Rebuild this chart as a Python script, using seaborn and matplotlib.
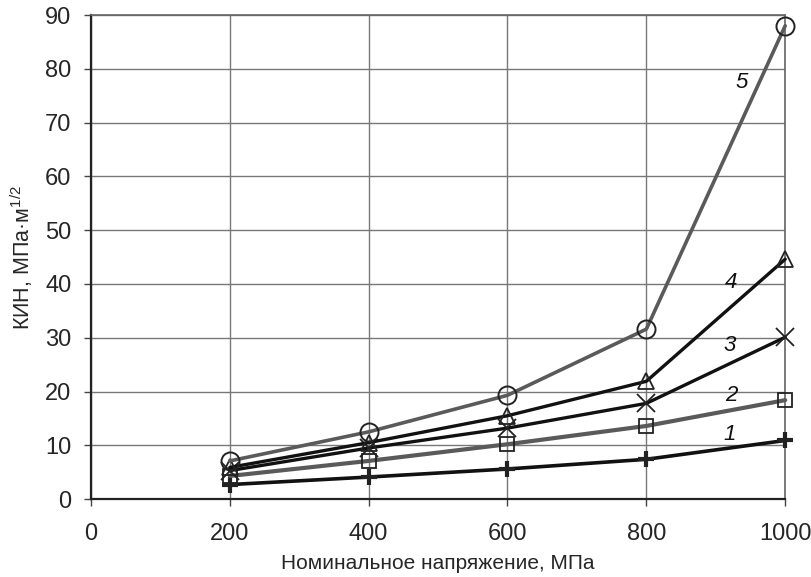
import numpy as np
import pandas as pd
import seaborn as sns
import matplotlib.pyplot as plt

# Data
stress = [200, 400, 600, 800, 1000]
k1 = [2.7, 4.1, 5.6, 7.4, 10.9]
k2 = [4.3, 7.1, 10.2, 13.6, 18.4]
k3 = [5.3, 9.5, 13.2, 17.8, 30.1]
k4 = [5.9, 10.5, 15.5, 21.9, 44.6]
k5 = [7.1, 12.5, 19.3, 31.6, 88.0]
curve_labels = ['1', '2', '3', '4', '5']
label_pos = [(920, 12.0), (922, 19.3), (920, 28.6), (922, 40.2), (938, 77.5)]

sns.set_style("white")
plt.rcParams['font.family'] = ['Liberation Sans', 'DejaVu Sans']
plt.rcParams['mathtext.fontset'] = 'custom'
plt.rcParams['mathtext.rm'] = 'Liberation Sans'

fig, ax = plt.subplots(figsize=(8.12, 5.77), dpi=100)
fig.subplots_adjust(left=0.112, right=0.967, top=0.974, bottom=0.135)

df = pd.DataFrame({'x': stress, 'k1': k1, 'k2': k2, 'k3': k3, 'k4': k4, 'k5': k5})

styles = [
    ('k1', '+', '#111111', 2.6, 11, 3.0),
    ('k2', 's', '#5a5a5a', 3.0, 10, 1.3),
    ('k3', 'x', '#111111', 2.4, 13, 1.3),
    ('k4', '^', '#111111', 2.4, 12, 1.3),
    ('k5', 'o', '#5a5a5a', 2.6, 13, 1.4),
]
for col, mk, c, lw, ms, mew in styles:
    sns.lineplot(data=df, x='x', y=col, ax=ax, color=c, linewidth=lw,
                 marker=mk, markersize=ms, markeredgewidth=mew,
                 markerfacecolor='none', markeredgecolor='#222222',
                 zorder=3, clip_on=False)

for lab, (lx, ly) in zip(curve_labels, label_pos):
    ax.text(lx, ly, lab, fontsize=16, fontstyle='italic', color='#111111',
            ha='center', va='center')

ax.set_xlim(0, 1000)
ax.set_ylim(0, 90)
ax.set_xticks(np.arange(0, 1001, 200))
ax.set_yticks(np.arange(0, 91, 10))
ax.grid(True, color='#777777', linewidth=1.0)
ax.set_axisbelow(True)
for side in ['top', 'right']:
    ax.spines[side].set_color('#666666')
    ax.spines[side].set_linewidth(1.2)
for side in ['left', 'bottom']:
    ax.spines[side].set_color('#222222')
    ax.spines[side].set_linewidth(1.6)
ax.tick_params(axis='both', labelsize=17, direction='out', length=5,
               width=1, color='#444444', bottom=True, left=True)
ax.tick_params(axis='y', pad=9)
ax.tick_params(axis='x', pad=12)
ax.set_xlabel('Номинальное напряжение, МПа', fontsize=15, labelpad=7)
ax.set_ylabel(r'КИН, МПа·м$^{1/2}$', fontsize=15.5, labelpad=7)

fig.savefig('out.png', dpi=100)
